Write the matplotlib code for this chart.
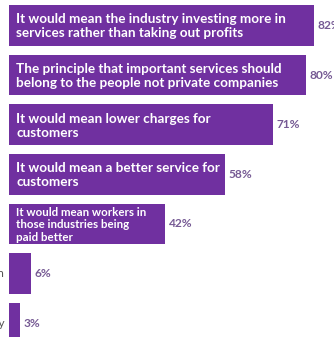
import matplotlib.pyplot as plt

reasons = [
    "It would mean the industry investing more in\nservices rather than taking out profits",
    "The principle that important services should\nbelong to the people not private companies",
    "It would mean lower charges for\ncustomers",
    "It would mean a better service for\ncustomers",
    "It would mean workers in\nthose industries being\npaid better",
    "Another reason",
    "Don't know why",
]
shares = [82, 80, 71, 58, 42, 6, 3]
inside = [True, True, True, True, True, False, False]
label_sizes = [9.7, 9.7, 9.7, 9.7, 8.3, 9, 9]

bar_color = "#7030a0"
value_color = "#765a94"

fig = plt.figure(figsize=(3.34, 3.37), dpi=100)
ax = fig.add_axes([0, 0, 1, 1])

ys = list(range(len(shares)))
ax.barh(ys, shares, height=0.82, color=bar_color)

for y, txt, v, ins, fs in zip(ys, reasons, shares, inside, label_sizes):
    if ins:
        ax.text(1.9, y + 0.02, txt, color="white", fontsize=fs, fontweight="bold",
                family="Lato", va="center", ha="left", linespacing=1.2)
    else:
        ax.text(-1.3, y, txt, color="#555555", fontsize=8.5, family="Lato",
                va="center", ha="right")
    ax.text(v + 0.9, y, f"{v}%", color=value_color, fontsize=8.6,
            fontweight="bold", family="Lato", va="center", ha="left")

ax.set_xlim(-2.42, 87.4)
ax.set_ylim(6.28, -0.514)
ax.axis("off")

fig.savefig("out.png", dpi=100)
